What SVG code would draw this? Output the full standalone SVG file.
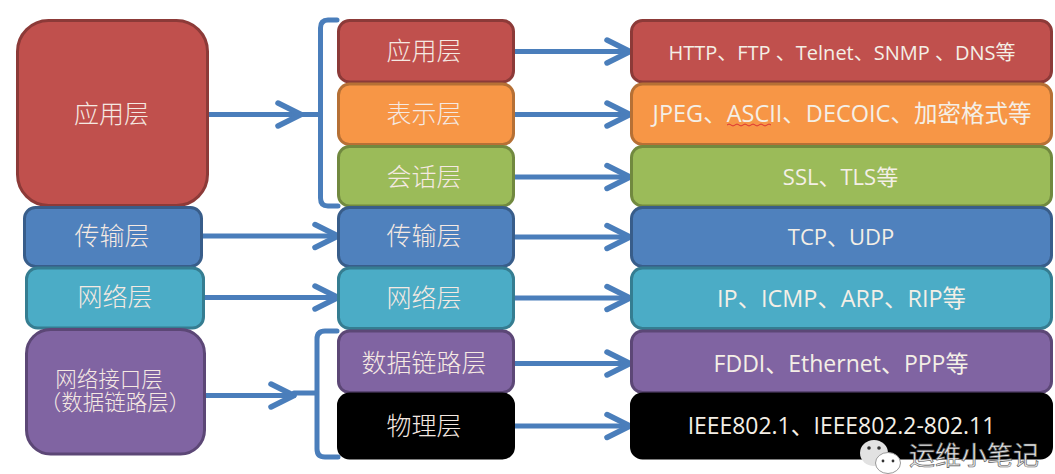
<svg xmlns="http://www.w3.org/2000/svg" width="1055" height="474" viewBox="0 0 1055 474">
<style>
.n{stroke-width:3}
.r{fill:#c0504d;stroke:#8c3a38}.o{fill:#f79646;stroke:#b67035}.g{fill:#9bbb59;stroke:#71893f}.b{fill:#4f81bd;stroke:#385d8a}.t{fill:#4bacc6;stroke:#357d91}.p{fill:#8064a2;stroke:#5c4776}.k{fill:#000;stroke:#000}
text{font-family:"Liberation Sans","Noto Sans CJK SC",sans-serif;text-anchor:middle;fill:#f4efe6;font-size:25px}
.c{font-family:"Noto Sans CJK SC","Liberation Sans",sans-serif;font-weight:300;fill:#f5e9e2}
.e{font-family:"Open Sans","Noto Sans CJK SC",sans-serif}
#connectors path{fill:none;stroke:#4a7ebb;stroke-width:5;stroke-linecap:round;stroke-linejoin:round}
</style>
<defs>
<marker id="a" markerUnits="userSpaceOnUse" markerWidth="30" markerHeight="30" refX="25" refY="13" orient="auto" overflow="visible"><path d="M2 1.500L25 13L2 24.500" fill="none" stroke="#4a7ebb" stroke-width="5.500" stroke-linecap="round" stroke-linejoin="round"/></marker>
</defs>
<rect width="1055" height="474" fill="#fff"/>
<g id="connectors">
<path d="M208 114.500H301" marker-end="url(#a)"/>
<path d="M202 236H338" marker-end="url(#a)"/>
<path d="M204 297.500H338" marker-end="url(#a)"/>
<path d="M205 395.500H294" marker-end="url(#a)"/>
<path d="M337 20H328Q320.500 20 320.500 28V198Q320.500 206 328 206H338M301 114.500H320.500"/>
<path d="M337 331H325Q317 331 317 339V449Q317 457 325 457H338M294 393H317"/>
<path d="M514 51.500H630" marker-end="url(#a)"/>
<path d="M514 114.500H630" marker-end="url(#a)"/>
<path d="M514 177H630" marker-end="url(#a)"/>
<path d="M514 237H630" marker-end="url(#a)"/>
<path d="M514 298H630" marker-end="url(#a)"/>
<path d="M514 363.500H630" marker-end="url(#a)"/>
<path d="M514 426H630" marker-end="url(#a)"/>
</g>
<g id="left-app"><rect class="n r" x="17.500" y="20.500" width="190" height="185" rx="31"/><text class="c" x="111.500" y="122.500">应用层</text></g>
<g id="left-transport"><rect class="n b" x="24.500" y="207.500" width="177" height="59" rx="11"/><text class="c" x="112" y="245">传输层</text></g>
<g id="left-network"><rect class="n t" x="26.500" y="268" width="177" height="60" rx="11"/><text class="c" x="115" y="306">网络层</text></g>
<g id="left-interface"><rect class="n p" x="26.500" y="329.500" width="178" height="124.500" rx="24"/><text class="c" style="font-size:21.500px"><tspan x="109" y="387">网络接口层</tspan><tspan x="115" y="410">（数据链路层）</tspan></text></g>
<g id="mid-app"><rect class="n r" x="338.500" y="20.500" width="175" height="61.500" rx="11"/><text class="c" x="424" y="60">应用层</text></g>
<g id="mid-pres"><rect class="n o" x="338.500" y="84" width="175" height="60.500" rx="11"/><text class="c" x="424" y="122.500">表示层</text></g>
<g id="mid-session"><rect class="n g" x="338.500" y="146.500" width="175" height="59.500" rx="11"/><text class="c" x="424" y="185.500">会话层</text></g>
<g id="mid-transport"><rect class="n b" x="338.500" y="207.500" width="175" height="59" rx="11"/><text class="c" x="424" y="245">传输层</text></g>
<g id="mid-network"><rect class="n t" x="338.500" y="268" width="175" height="60.500" rx="11"/><text class="c" x="424" y="306.500">网络层</text></g>
<g id="mid-link"><rect class="n p" x="338.500" y="331" width="175" height="61.500" rx="11"/><text class="c" x="424" y="372">数据链路层</text></g>
<g id="mid-phys"><rect class="n k" x="338.500" y="394" width="175" height="64" rx="11"/><text class="c" x="424" y="435">物理层</text></g>
<g id="right-app"><rect class="n r" x="631.500" y="20.500" width="420" height="61.500" rx="11"/><text class="e" x="842" y="59.500" style="font-size:20px">HTTP、FTP 、Telnet、SNMP 、DNS等</text></g>
<g id="right-pres"><rect class="n o" x="631.500" y="84" width="420" height="60.500" rx="11"/><text class="e" x="842" y="122" style="font-size:23.500px">JPEG、ASCII、DECOIC、加密格式等</text><path d="M727 125q2 -2 4 0t4 0t4 0t4 0t4 0t4 0t4 0t4 0t4 0t4 0t4 0" fill="none" stroke="#d33" stroke-width="1"/></g>
<g id="right-session"><rect class="n g" x="631.500" y="146.500" width="420" height="59.500" rx="11"/><text class="e" x="840.500" y="184.500" style="font-size:22px">SSL、TLS等</text></g>
<g id="right-transport"><rect class="n b" x="631.500" y="207.500" width="420" height="59" rx="11"/><text class="e" x="841" y="244.500" style="font-size:22px">TCP、UDP</text></g>
<g id="right-network"><rect class="n t" x="631.500" y="268" width="420" height="60.500" rx="11"/><text class="e" x="841.500" y="306.500" style="font-size:23.400px">IP、ICMP、ARP、RIP等</text></g>
<g id="right-link"><rect class="n p" x="631.500" y="331" width="420" height="61.500" rx="11"/><text class="e" x="841" y="371.500" style="font-size:23px">FDDI、Ethernet、PPP等</text></g>
<g id="right-phys"><rect class="n k" x="631.500" y="394" width="420" height="64" rx="11"/><text class="e" x="841.500" y="434" style="font-size:22.900px">IEEE802.1、IEEE802.2-802.11</text></g>
<g id="watermark">
<ellipse cx="874" cy="453" rx="14" ry="13" fill="#e2e2e2"/>
<ellipse cx="888" cy="463" rx="12.500" ry="10.500" fill="#fff" stroke="#999"/>
<circle cx="869" cy="448" r="1.800" fill="#333"/><circle cx="879" cy="448" r="1.800" fill="#333"/>
<circle cx="883" cy="461" r="1.400" fill="#333"/><circle cx="893" cy="461" r="1.400" fill="#333"/>
<text x="974" y="465" style="font-size:26px;fill:#e8e8e8;stroke:#555;stroke-width:.6">运维小笔记</text>
</g>
</svg>
